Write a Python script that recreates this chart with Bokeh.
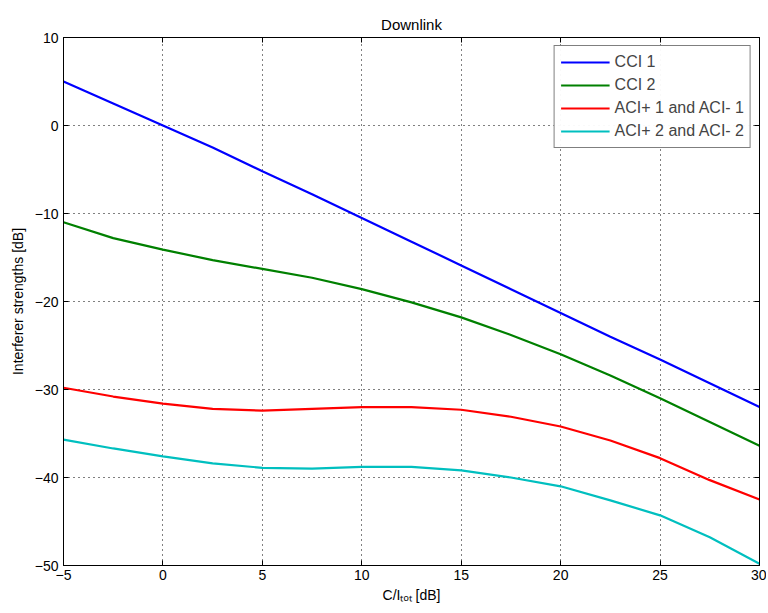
from bokeh.plotting import figure
from bokeh.models import (LinearAxis, FixedTicker, Legend, LegendItem, Range1d)
from bokeh.embed import file_html
from bokeh.resources import INLINE

x = [-5, -2.5, 0, 2.5, 5, 7.5, 10, 12.5, 15, 17.5, 20, 22.5, 25, 27.5, 30]
cci1 = [5.0, 2.5, 0.0, -2.5, -5.2, -7.8, -10.5, -13.2, -15.9, -18.6, -21.3, -24.0, -26.6, -29.3, -32.0]
cci2 = [-11.0, -12.8, -14.1, -15.3, -16.3, -17.3, -18.6, -20.1, -21.8, -23.8, -26.0, -28.4, -31.0, -33.7, -36.4]
aci1 = [-29.8, -30.8, -31.6, -32.2, -32.4, -32.2, -32.0, -32.0, -32.3, -33.1, -34.2, -35.8, -37.8, -40.3, -42.5]
aci2 = [-35.7, -36.7, -37.6, -38.4, -38.9, -39.0, -38.8, -38.8, -39.2, -40.0, -41.0, -42.6, -44.3, -46.8, -49.8]

series_names = ["CCI 1", "CCI 2", "ACI+ 1 and ACI- 1", "ACI+ 2 and ACI- 2"]
series_colors = ["#0000ff", "#008000", "#ff0000", "#00bfbf"]
series_vals = [cci1, cci2, aci1, aci2]

x_ticks = [-5, 0, 5, 10, 15, 20, 25, 30]
y_ticks = [-50, -40, -30, -20, -10, 0, 10]

FONT = "Liberation Sans"

p = figure(width=766, height=612, output_backend="svg", toolbar_location=None,
           x_range=Range1d(-5, 30), y_range=Range1d(-50, 10),
           min_border_left=63, min_border_right=7, min_border_top=37, min_border_bottom=47)
p.frame_width = 696
p.frame_height = 528
p.background_fill_color = "white"
p.border_fill_color = "white"
p.outline_line_color = "black"
p.outline_line_width = 1

p.title.text = "Downlink"
p.title.align = "center"
p.title.text_font = FONT
p.title.text_font_size = "15px"
p.title.text_font_style = "normal"
p.title.text_color = "black"

renderers = []
for name, col, vals in zip(series_names, series_colors, series_vals):
    r = p.line(x, vals, line_color=col, line_width=2.2)
    renderers.append((name, r))

for ax in [p.xaxis[0], p.yaxis[0]]:
    ax.major_tick_in = 5
    ax.major_tick_out = 0
    ax.minor_tick_in = 0
    ax.minor_tick_out = 0
    ax.axis_line_color = "black"
    ax.major_tick_line_color = "black"
    ax.major_label_text_font = FONT
    ax.major_label_text_font_size = "14px"
    ax.major_label_text_color = "black"
    ax.axis_label_text_font = FONT
    ax.axis_label_text_font_size = "14px"
    ax.axis_label_text_font_style = "normal"
    ax.axis_label_text_color = "black"
p.xaxis[0].ticker = FixedTicker(ticks=x_ticks)
p.yaxis[0].ticker = FixedTicker(ticks=y_ticks)
p.xaxis[0].major_label_standoff = 4
p.yaxis[0].major_label_standoff = 5

p.yaxis[0].axis_label = "Interferer strengths [dB]"
p.yaxis[0].axis_label_standoff = 6
p.xaxis[0].axis_label = "C/I\u209c\u2092\u209c [dB]"
p.xaxis[0].axis_label_standoff = 4

top = LinearAxis(ticker=FixedTicker(ticks=x_ticks),
                 major_label_overrides={t: "" for t in x_ticks},
                 major_tick_in=5, major_tick_out=0, minor_tick_in=0, minor_tick_out=0,
                 major_label_standoff=0)
right = LinearAxis(ticker=FixedTicker(ticks=y_ticks),
                   major_label_overrides={t: "" for t in y_ticks},
                   major_tick_in=5, major_tick_out=0, minor_tick_in=0, minor_tick_out=0,
                   major_label_standoff=0)
p.add_layout(top, "above")
p.add_layout(right, "right")

for g in [p.xgrid[0], p.ygrid[0]]:
    g.grid_line_color = "black"
    g.grid_line_dash = "1 4"
    g.grid_line_width = 1
p.xgrid[0].ticker = FixedTicker(ticks=x_ticks)
p.ygrid[0].ticker = FixedTicker(ticks=y_ticks)

legend = Legend(items=[LegendItem(label=n, renderers=[r]) for n, r in renderers],
                location="top_right")
legend.border_line_color = "black"
legend.border_line_width = 1
legend.label_text_font = FONT
legend.label_text_font_size = "16px"
legend.glyph_width = 49
legend.glyph_height = 20
legend.label_height = 20
legend.spacing = 3
legend.padding = 6
legend.margin = 8
legend.label_standoff = 5
p.add_layout(legend)

open("out.html", "w").write(file_html(p, INLINE))
